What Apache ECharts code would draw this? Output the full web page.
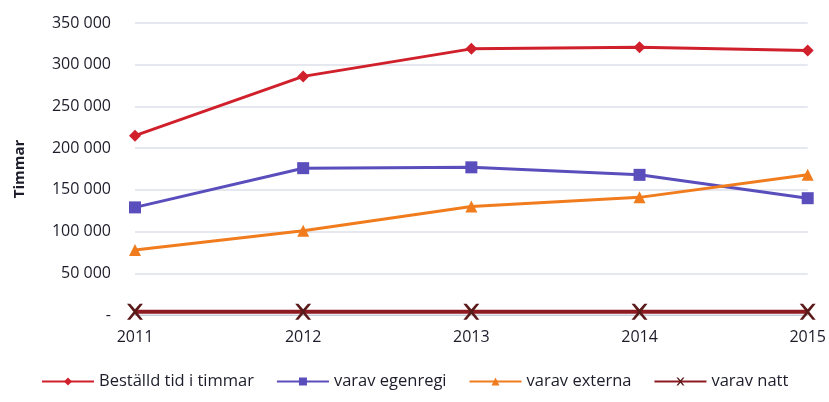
<!DOCTYPE html>
<html>
<head>
<meta charset="utf-8">
<script src="https://cdn.jsdelivr.net/npm/echarts@6/dist/echarts.min.js"></script>
<style>
  html, body { margin: 0; padding: 0; background: #fff; }
  #chart { width: 829px; height: 402px; }
</style>
</head>
<body>
<div id="chart"></div>
<script>
// data
const years = ['2011', '2012', '2013', '2014', '2015'];
const bestalld = [215000, 286000, 319000, 321000, 317000];
const egenregi = [129000, 176000, 177000, 168000, 140000];
const externa = [78000, 101000, 130000, 141000, 168000];
const natt = [4000, 4000, 4000, 4000, 4000];
const seriesNames = ['Beställd tid i timmar', 'varav egenregi', 'varav externa', 'varav natt'];

const fontFam = '"Open Sans", "Noto Sans", sans-serif';

function fmt(v) {
  if (v === 0) return '-';
  return String(v).replace(/\B(?=(\d{3})+(?!\d))/g, ' ');
}

function line(name, data, color, symbol, size) {
  return {
    name: name,
    type: 'line',
    data: data,
    symbol: symbol,
    symbolSize: size,
    lineStyle: { color: color, width: 3 },
    itemStyle: { color: color },
    z: 3
  };
}

const chart = echarts.init(document.getElementById('chart'));
chart.setOption({
  animation: false,
  grid: { left: 135, right: 21, top: 23, bottom: 87 },
  legend: {
    top: 368,
    left: 36,
    itemWidth: 52,
    itemHeight: 10,
    itemGap: 22,
    textStyle: { fontFamily: fontFam, fontSize: 16.5, color: '#1c1c2a' },
    data: seriesNames
  },
  xAxis: {
    type: 'category',
    data: years,
    boundaryGap: false,
    axisTick: { show: false },
    axisLine: { lineStyle: { color: '#c8ccd6', width: 1 } },
    axisLabel: { color: '#1c1c2a', fontFamily: fontFam, fontSize: 16, margin: 14 }
  },
  yAxis: {
    type: 'value',
    min: 0,
    max: 350000,
    interval: 50000,
    name: 'Timmar',
    nameLocation: 'middle',
    nameGap: 108,
    nameTextStyle: { fontFamily: fontFam, fontSize: 15, fontWeight: 'bold', color: '#1c1c2a' },
    axisLabel: { color: '#1c1c2a', fontFamily: fontFam, fontSize: 16, margin: 24, formatter: fmt },
    splitLine: { lineStyle: { color: '#dde0e8', width: 1.5 } }
  },
  series: [
    line(seriesNames[0], bestalld, '#d0202c', 'diamond', 12),
    line(seriesNames[1], egenregi, '#5a4ebc', 'rect', 12),
    line(seriesNames[2], externa, '#f07c1e', 'triangle', 12),
    {
      name: seriesNames[3],
      type: 'line',
      data: natt,
      symbol: 'path://M0,0 L2,0 L5,3.5 L8,0 L10,0 L6,5 L10,10 L8,10 L5,6.5 L2,10 L0,10 L4,5 Z',
      symbolSize: 16,
      lineStyle: { color: '#8e1a22', width: 4 },
      itemStyle: { color: '#5a1a1a' },
      z: 3
    }
  ]
});
</script>
</body>
</html>
